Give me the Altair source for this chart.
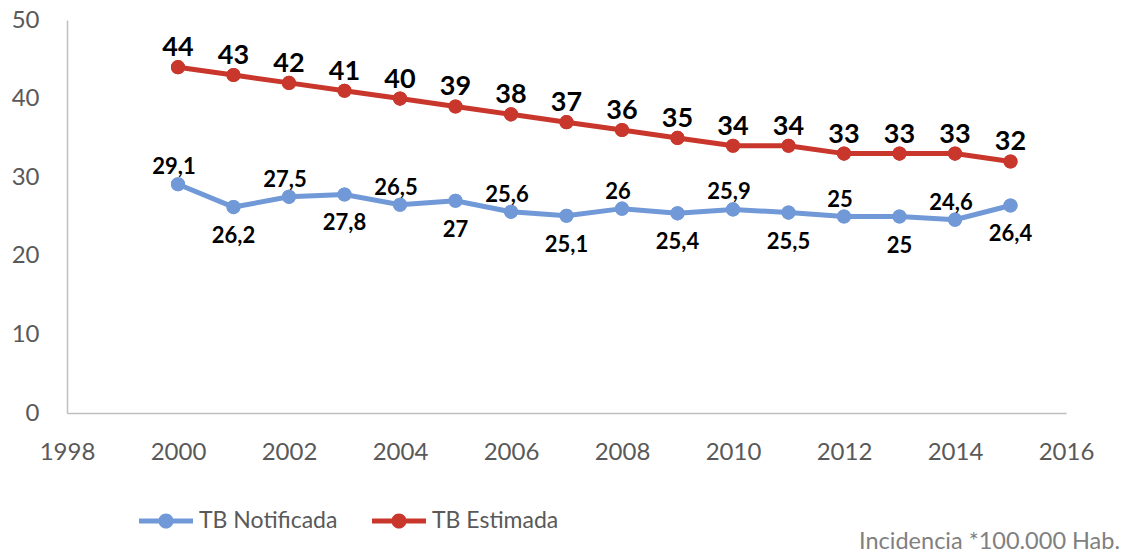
import altair as alt
import pandas as pd

years = list(range(2000, 2016))
tb_notificada = [29.1, 26.2, 27.5, 27.8, 26.5, 27.0, 25.6, 25.1, 26.0, 25.4, 25.9, 25.5, 25.0, 25.0, 24.6, 26.4]
tb_estimada = [44, 43, 42, 41, 40, 39, 38, 37, 36, 35, 34, 34, 33, 33, 33, 32]
series_names = ["TB Notificada", "TB Estimada"]
series_colors = ["#7199D7", "#C9372C"]
x_ticks = list(range(1998, 2017, 2))
y_ticks = [0, 10, 20, 30, 40, 50]
footnote = ["Incidencia *100.000 Hab."]


def fmt(v):
    s = ("%g" % v)
    return s.replace(".", ",")


rows = []
for i, (yr, a, b) in enumerate(zip(years, tb_notificada, tb_estimada)):
    rows.append({"year": yr, "value": a, "serie": series_names[0], "label": fmt(a),
                 "pos": "above" if i % 2 == 0 else "below"})
    rows.append({"year": yr, "value": b, "serie": series_names[1], "label": fmt(b),
                 "pos": "above"})
df = pd.DataFrame(rows)

legend_path = ("M-1,-0.09 L-0.26,-0.09 L-0.26,0.09 L-1,0.09 Z "
               "M0.26,-0.09 L1,-0.09 L1,0.09 L0.26,0.09 Z "
               "M-0.28,0 A0.28,0.28 0 1,1 0.28,0 A0.28,0.28 0 1,1 -0.28,0 Z")

x_enc = alt.X("year:Q", scale=alt.Scale(domain=[1998, 2016], nice=False, zero=False),
              axis=alt.Axis(values=x_ticks, format="d", title=None, grid=False, ticks=False,
                            labelFontSize=24, labelFont="Lato", labelColor="#595959",
                            labelPadding=27, domainColor="#BFBFBF", domainWidth=1.5,
                            labelFlush=False))
y_enc = alt.Y("value:Q", scale=alt.Scale(domain=[0, 50], nice=False),
              axis=alt.Axis(values=y_ticks, title=None, grid=False, ticks=False,
                            labelFontSize=24, labelFont="Lato", labelColor="#595959",
                            labelPadding=28, domainColor="#BFBFBF", domainWidth=1.5,
                            minExtent=59, maxExtent=59))
color_enc = alt.Color("serie:N", scale=alt.Scale(domain=series_names, range=series_colors),
                      legend=alt.Legend(title=None, orient="none", direction="horizontal",
                                        legendX=72, legendY=474, symbolType=legend_path,
                                        symbolSize=2916, symbolStrokeWidth=0, symbolOpacity=1,
                                        labelFont="Lato", labelFontSize=23, labelColor="#595959",
                                        labelOffset=6, columnPadding=34, labelLimit=300))

base = alt.Chart(df)

points = base.mark_point(filled=True, size=200, opacity=1).encode(
    x=x_enc, y=y_enc, color=color_enc)
lines = base.mark_line(strokeWidth=5).encode(
    x="year:Q", y="value:Q", color=alt.Color("serie:N", legend=None))

red_labels = base.transform_filter(alt.datum.serie == series_names[1]).mark_text(
    font="Lato", fontWeight="bold", fontSize=27, color="black", dy=-11, baseline="alphabetic"
).encode(x="year:Q", y="value:Q", text="label:N")

blue_above = base.transform_filter(
    (alt.datum.serie == series_names[0]) & (alt.datum.pos == "above")).mark_text(
    font="Lato", fontWeight="bold", fontSize=22, color="black", dy=-10, dx=-4, baseline="alphabetic"
).encode(x="year:Q", y="value:Q", text="label:N")

blue_below = base.transform_filter(
    (alt.datum.serie == series_names[0]) & (alt.datum.pos == "below")).mark_text(
    font="Lato", fontWeight="bold", fontSize=22, color="black", dy=36, baseline="alphabetic"
).encode(x="year:Q", y="value:Q", text="label:N")

note = alt.Chart(pd.DataFrame({"t": footnote})).mark_text(
    font="Lato", fontSize=23.5, color="#808080", align="right", baseline="alphabetic"
).encode(x=alt.value(1053), y=alt.value(529), text="t:N")

chart = alt.layer(points, lines, points, red_labels, blue_above, blue_below, note).properties(
    width=999, height=393,
    autosize=alt.AutoSizeParams(type="none"),
    padding={"left": 59, "top": 12, "right": 55, "bottom": 146},
).configure_view(stroke=None).resolve_legend(color="shared")

chart.save("out.html", embed_options={"renderer": "svg", "actions": False})
